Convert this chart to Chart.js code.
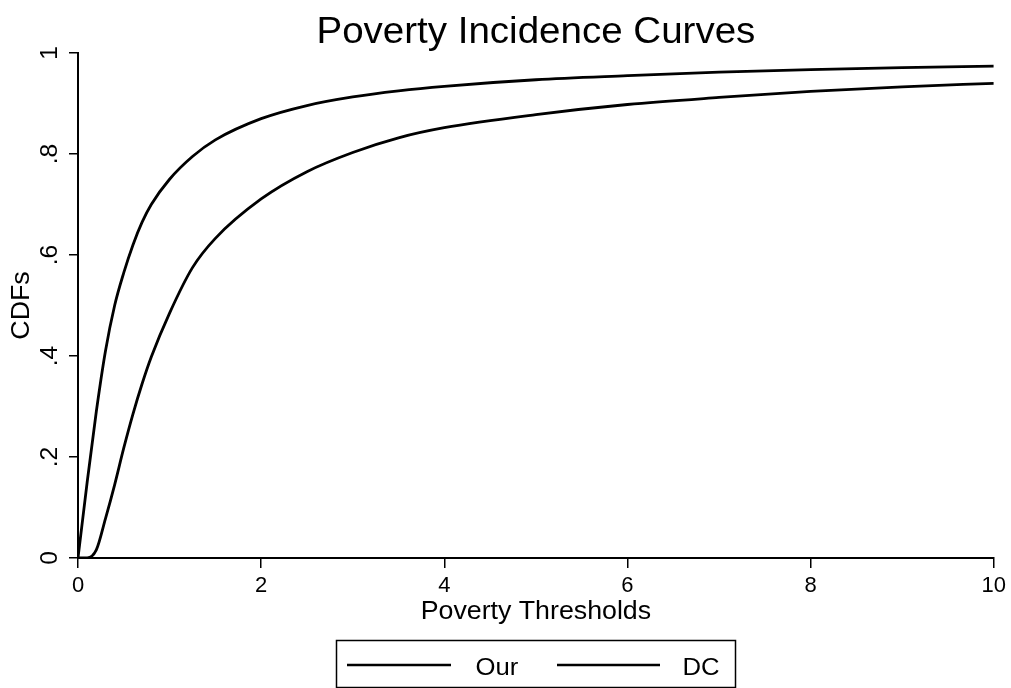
<!DOCTYPE html>
<html>
<head>
<meta charset="utf-8">
<script src="https://cdn.jsdelivr.net/npm/chart.js@4.4.1/dist/chart.umd.min.js"></script>
<style>
  html, body { margin: 0; padding: 0; background: #ffffff; }
  #wrap { width: 1011px; height: 688px; }
</style>
</head>
<body>
<div id="wrap"><canvas id="c" width="1011" height="688"></canvas></div>
<script>
// ---- data ----
const chartTitle = "Poverty Incidence Curves";
const xAxisTitle = "Poverty Thresholds";
const yAxisTitle = "CDFs";
const seriesNames = ["Our", "DC"];
const thresholds = [0, 0.1, 0.2, 0.3, 0.4, 0.5, 0.6, 0.7, 0.8, 1.0, 1.25, 1.5, 2, 2.5, 3, 3.5, 4, 5, 6, 7, 8, 9, 10];
const ourValues  = [0, 0.15, 0.29, 0.41, 0.50, 0.565, 0.62, 0.665, 0.70, 0.75, 0.795, 0.828, 0.870, 0.896, 0.913, 0.925, 0.934, 0.947, 0.955, 0.962, 0.967, 0.971, 0.974];
const dcValues   = [0, 0.0, 0.016, 0.078, 0.145, 0.218, 0.285, 0.345, 0.398, 0.485, 0.575, 0.633, 0.711, 0.765, 0.803, 0.832, 0.852, 0.878, 0.898, 0.912, 0.924, 0.933, 0.940];
const xTicks = [0, 2, 4, 6, 8, 10];
const yTicks = [0, 0.2, 0.4, 0.6, 0.8, 1];
const yTickLabels = ["0", ".2", ".4", ".6", ".8", "1"];

const FONT = "'Liberation Sans', Arial, Helvetica, sans-serif";
const STRETCH = 1.07;

function toPoints(xs, ys) { return xs.map((x, i) => ({ x: x, y: ys[i] })); }

function stretchedText(ctx, text, x, y, rot) {
  ctx.save();
  ctx.translate(x, y);
  if (rot) ctx.rotate(rot);
  ctx.scale(STRETCH, 1);
  ctx.fillText(text, 0, 0);
  ctx.restore();
}

const textPlugin = {
  id: 'stataText',
  afterDraw(chart) {
    const ctx = chart.ctx;
    const area = chart.chartArea;
    const ys = chart.scales.y;
    const cx = (area.left + area.right) / 2;
    ctx.save();
    ctx.fillStyle = '#000';
    ctx.textAlign = 'center';
    // title
    ctx.font = '36px ' + FONT;
    ctx.textBaseline = 'alphabetic';
    stretchedText(ctx, chartTitle, cx, 43, 0);
    // rotated y tick labels
    ctx.textBaseline = 'middle';
    ctx.font = '23px ' + FONT;
    yTicks.forEach((v, i) => {
      stretchedText(ctx, yTickLabels[i], 51, ys.getPixelForValue(v), -Math.PI / 2);
    });
    // y title
    ctx.font = '25px ' + FONT;
    stretchedText(ctx, yAxisTitle, 22, (area.top + area.bottom) / 2, -Math.PI / 2);
    // x title
    ctx.textBaseline = 'alphabetic';
    ctx.font = '25px ' + FONT;
    stretchedText(ctx, xAxisTitle, cx, 619, 0);
    // legend
    const bx = 336, by = 640, bw = 399, bh = 47;
    ctx.strokeStyle = '#000';
    ctx.lineWidth = 1.5;
    ctx.strokeRect(bx + 0.5, by + 0.5, bw, bh);
    const midY = 665;
    const items = [
      { x1: 347, x2: 451, tx: 497, label: seriesNames[0] },
      { x1: 557, x2: 660, tx: 701, label: seriesNames[1] }
    ];
    ctx.font = '24px ' + FONT;
    items.forEach(it => {
      ctx.lineWidth = 2.5;
      ctx.beginPath();
      ctx.moveTo(it.x1, midY);
      ctx.lineTo(it.x2, midY);
      ctx.stroke();
      stretchedText(ctx, it.label, it.tx, 675, 0);
    });
    ctx.restore();
  }
};

new Chart(document.getElementById('c'), {
  type: 'line',
  data: {
    datasets: [
      { label: seriesNames[0], data: toPoints(thresholds, ourValues), borderColor: '#000', borderWidth: 2.8, pointRadius: 0, fill: false, cubicInterpolationMode: 'monotone' },
      { label: seriesNames[1], data: toPoints(thresholds, dcValues), borderColor: '#000', borderWidth: 2.8, pointRadius: 0, fill: false, cubicInterpolationMode: 'monotone' }
    ]
  },
  options: {
    responsive: false,
    animation: false,
    layout: { padding: { left: 0, right: 16, top: 53, bottom: 0 } },
    plugins: { legend: { display: false }, title: { display: false }, tooltip: { enabled: false } },
    scales: {
      x: {
        type: 'linear', min: 0, max: 10,
        afterBuildTicks(scale) { scale.ticks = xTicks.map(v => ({ value: v })); },
        afterFit(scale) { scale.height = 130; },
        ticks: { color: '#000', font: { size: 22, family: FONT }, padding: 5, maxRotation: 0, autoSkip: false },
        grid: { drawOnChartArea: false, drawTicks: true, tickLength: 10, color: '#000', lineWidth: 1.5 },
        border: { display: true, color: '#000', width: 2 }
      },
      y: {
        type: 'linear', min: 0, max: 1,
        afterBuildTicks(scale) { scale.ticks = yTicks.map(v => ({ value: v })); },
        afterFit(scale) { scale.width = 78; },
        ticks: { display: false },
        grid: { drawOnChartArea: false, drawTicks: true, tickLength: 9, color: '#000', lineWidth: 1.5 },
        border: { display: true, color: '#000', width: 2 }
      }
    }
  },
  plugins: [textPlugin]
});
</script>
</body>
</html>
